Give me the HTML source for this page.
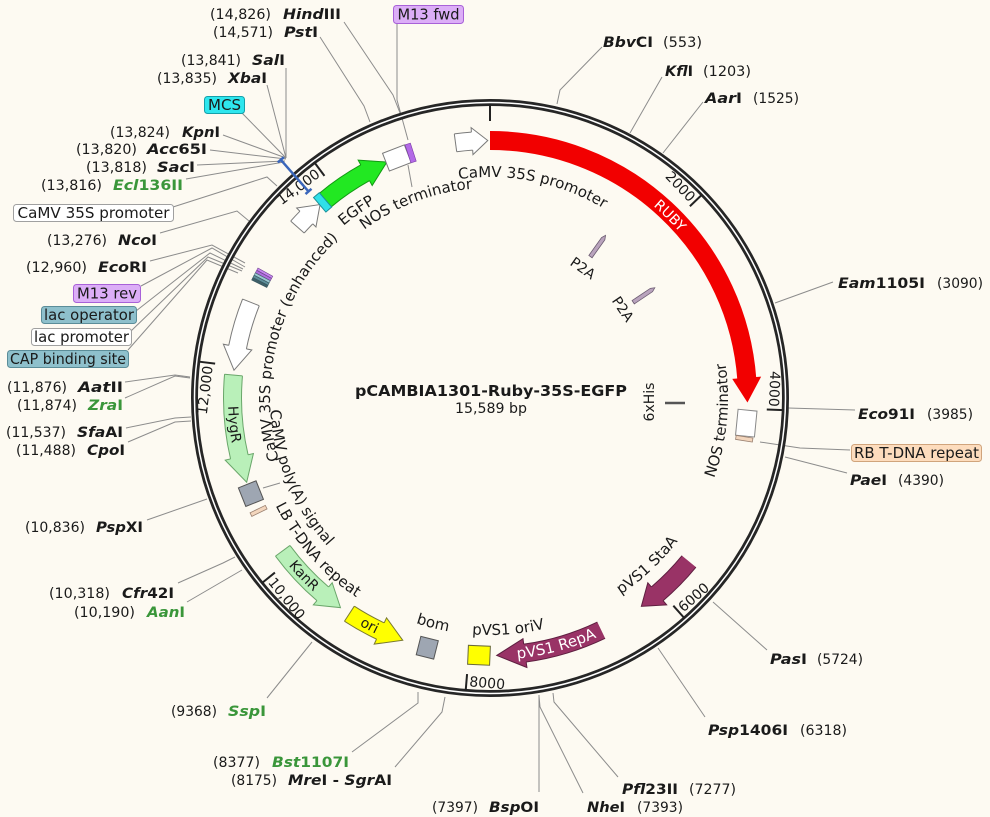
<!DOCTYPE html>
<html><head><meta charset="utf-8"><style>
html,body{margin:0;padding:0;background:#fdfaf2;}
svg{display:block}
text{font-family:"DejaVu Sans","Liberation Sans",sans-serif;fill:#1a1a1a}
.n{font-size:14px}
.e{font-size:14px;font-weight:bold}
.i{font-style:italic}
.g{fill:#3a963a}
.b{font-size:15px}
.c{font-size:15px}
.w{fill:#ffffff}
.ld{fill:none;stroke:#8c8c8c;stroke-width:1}
</style></head><body>
<svg xmlns="http://www.w3.org/2000/svg" width="990" height="817" viewBox="0 0 990 817">
<defs>
<path id="cw221" d="M490,619 A221,221 0 1,1 490,177 A221,221 0 1,1 490,619"/>
<path id="cw210" d="M490,608 A210,210 0 1,1 490,188 A210,210 0 1,1 490,608"/>
<path id="cw226" d="M490,624 A226,226 0 1,1 490,172 A226,226 0 1,1 490,624"/>
<path id="cw220" d="M490,618 A220,220 0 1,1 490,178 A220,220 0 1,1 490,618"/>
<path id="cw252" d="M490,650 A252,252 0 1,1 490,146 A252,252 0 1,1 490,650"/>
<path id="ccw220" d="M490,178 A220,220 0 1,0 490,618 A220,220 0 1,0 490,178"/>
<path id="ccw240" d="M490,158 A240,240 0 1,0 490,638 A240,240 0 1,0 490,158"/>
<path id="ccw237" d="M490,161 A237,237 0 1,0 490,635 A237,237 0 1,0 490,161"/>
<path id="ccw236" d="M490,162 A236,236 0 1,0 490,634 A236,236 0 1,0 490,162"/>
<path id="ccw238" d="M490,160 A238,238 0 1,0 490,636 A238,238 0 1,0 490,160"/>
<path id="ccw262" d="M490,136 A262,262 0 1,0 490,660 A262,262 0 1,0 490,136"/>
</defs>
<rect width="990" height="817" fill="#fdfaf2"/>

<!-- leader lines -->
<g class="ld">
<polyline points="344,22 393,95 400,113"/>
<polyline points="397,23 397,100 408,140"/>
<polyline points="320,37 364,106 370,122"/>
<polyline points="286,68 286,158"/>
<polyline points="267,85 286,158"/>
<polyline points="242,113 286,158"/>
<polyline points="223,135 286,158"/>
<polyline points="210,150 286,159"/>
<polyline points="197,165 285,161"/>
<polyline points="186,179 284,162"/>
<polyline points="173,207 267,177 277,186"/>
<polyline points="160,233 237,211 249,221"/>
<polyline points="150,261 212,245 245,263"/>
<polyline points="141,286 212,248 245,267"/>
<polyline points="136,311 210,253 243,269"/>
<polyline points="131,331 208,257 242,271"/>
<polyline points="128,350 207,260 238,273"/>
<polyline points="125,382 175,375 190,377"/>
<polyline points="125,398 175,376 190,378"/>
<polyline points="126,428 175,418 191,417"/>
<polyline points="128,442 175,422 191,421"/>
<polyline points="147,520 207,499"/>
<polyline points="178,583 223,563 235,557"/>
<polyline points="187,602 242,570"/>
<polyline points="267,698 312,642"/>
<polyline points="352,752 418,703 418,692"/>
<polyline points="395,767 442,712 445,697"/>
<polyline points="539,792 539,695"/>
<polyline points="583,793 540,707 539,696"/>
<polyline points="618,777 554,702 553,693"/>
<polyline points="705,717 658,648"/>
<polyline points="767,650 713,602"/>
<polyline points="847,473 785,457"/>
<polyline points="850,450 800,448 760,442"/>
<polyline points="855,410 788,408"/>
<polyline points="833,282 775,303"/>
<polyline points="703,102 663,153"/>
<polyline points="662,77 630,133"/>
<polyline points="602,47 560,90 557,104"/>
<polyline points="408,165 412,187"/>
<polyline points="263,488 280,483"/>
</g>

<!-- ring -->
<circle cx="490" cy="398" r="295.5" fill="none" stroke="#262626" stroke-width="7"/>
<circle cx="490" cy="398" r="295.5" fill="none" stroke="#ffffff" stroke-width="1.5"/>
<g stroke="#222" stroke-width="2">
<line x1="490" y1="104" x2="490" y2="121"/>
<line x1="490" y1="104" x2="490" y2="121" transform="rotate(46.19 490 398)"/>
<line x1="490" y1="104" x2="490" y2="121" transform="rotate(92.37 490 398)"/>
<line x1="490" y1="104" x2="490" y2="121" transform="rotate(138.56 490 398)"/>
<line x1="490" y1="104" x2="490" y2="121" transform="rotate(184.75 490 398)"/>
<line x1="490" y1="104" x2="490" y2="121" transform="rotate(230.94 490 398)"/>
<line x1="490" y1="104" x2="490" y2="121" transform="rotate(277.12 490 398)"/>
<line x1="490" y1="104" x2="490" y2="121" transform="rotate(323.3 490 398)"/>
</g>
<text class="n" x="487" y="119" text-anchor="end" transform="rotate(46.19 490 398)">2000</text>
<text class="n" x="487" y="119" text-anchor="end" transform="rotate(92.37 490 398)">4000</text>
<text class="n" x="493" y="687" transform="rotate(-41.44 490 398)">6000</text>
<text class="n" x="493" y="687" transform="rotate(4.75 490 398)">8000</text>
<text class="n" x="493" y="687" transform="rotate(50.94 490 398)">10,000</text>
<text class="n" x="487" y="119" text-anchor="end" transform="rotate(277.12 490 398)">12,000</text>
<text class="n" x="487" y="119" text-anchor="end" transform="rotate(323.3 490 398)">14,000</text>

<!-- blue MCS bar -->
<g transform="rotate(318.7 490 398)" stroke="#3a66bb" stroke-width="2.5">
<line x1="490" y1="81" x2="490" y2="123"/>
<line x1="486" y1="81" x2="494" y2="81"/>
<line x1="486" y1="123" x2="494" y2="123"/>
</g>

<!-- Arrow 1: top CaMV 35S promoter (white) -->
<polygon points="490,127 505.72,140.98 490,154" fill="#fff" stroke="#7a7a7a" stroke-width="1" transform="rotate(356 490 398)"/>
<circle cx="490" cy="398" r="257.5" fill="none" stroke="#fff" stroke-width="18" stroke-dasharray="17.98 2000" transform="rotate(262.3 490 398)"/>
<circle cx="490" cy="398" r="248.5" fill="none" stroke="#7a7a7a" stroke-width="1" stroke-dasharray="16.02 2000" transform="rotate(262.3 490 398)"/>
<circle cx="490" cy="398" r="266.5" fill="none" stroke="#7a7a7a" stroke-width="1" stroke-dasharray="17.24 2000" transform="rotate(262.3 490 398)"/>
<line x1="490" y1="131.5" x2="490" y2="149.5" stroke="#7a7a7a" transform="rotate(352.3 490 398)"/>

<!-- RUBY -->
<circle cx="490" cy="398" r="257.5" fill="none" stroke="#f20000" stroke-width="19" stroke-dasharray="385.6 2000" transform="rotate(-90 490 398)"/>
<polygon points="490,126 514.68,141.69 490,155" fill="#f20000" transform="rotate(85.5 490 398)"/>

<!-- NOS terminator right -->
<rect x="477" y="131" width="26" height="19" fill="#fff" stroke="#888" stroke-width="1" transform="rotate(95.6 490 398)"/>
<rect x="488" y="132" width="4" height="17" fill="#f3d6bd" stroke="#9a8070" stroke-width="0.8" transform="rotate(99.1 490 398)"/>

<!-- pVS1 StaA -->
<polygon points="490,126 510.2,141.29 490,155" fill="#993366" stroke="#5e1f40" stroke-width="1" transform="rotate(139.5 490 398)"/>
<circle cx="490" cy="398" r="257.5" fill="none" stroke="#993366" stroke-width="18" stroke-dasharray="46.74 2000" transform="rotate(39.4 490 398)"/>
<circle cx="490" cy="398" r="248.5" fill="none" stroke="#5e1f40" stroke-width="1" stroke-dasharray="43.72 2000" transform="rotate(39.4 490 398)"/>
<circle cx="490" cy="398" r="266.5" fill="none" stroke="#5e1f40" stroke-width="1" stroke-dasharray="47.07 2000" transform="rotate(39.4 490 398)"/>

<!-- pVS1 RepA -->
<polygon points="490,126 518.26,142.06 490,155" fill="#993366" stroke="#5e1f40" stroke-width="1" transform="rotate(172.2 490 398)"/>
<circle cx="490" cy="398" r="257.5" fill="none" stroke="#993366" stroke-width="18" stroke-dasharray="81.35 2000" transform="rotate(64.4 490 398)"/>
<circle cx="490" cy="398" r="248.5" fill="none" stroke="#5e1f40" stroke-width="1" stroke-dasharray="77.05 2000" transform="rotate(64.4 490 398)"/>
<circle cx="490" cy="398" r="266.5" fill="none" stroke="#5e1f40" stroke-width="1" stroke-dasharray="82.95 2000" transform="rotate(64.4 490 398)"/>

<!-- oriV, bom -->
<rect x="479" y="131" width="22" height="19" fill="#ffff00" stroke="#6a6a3a" stroke-width="1" transform="rotate(182.45 490 398)"/>
<rect x="481" y="131" width="18" height="19" fill="#9ea6b2" stroke="#555" stroke-width="1" transform="rotate(194.1 490 398)"/>

<!-- ori -->
<polygon points="490,126 465.77,141.64 490,155" fill="#ffff00" stroke="#7a7a30" stroke-width="1" transform="rotate(205.2 490 398)"/>
<circle cx="490" cy="398" r="257.5" fill="none" stroke="#ffff00" stroke-width="18" stroke-dasharray="36.85 2000" transform="rotate(114.9 490 398)"/>
<circle cx="490" cy="398" r="248.5" fill="none" stroke="#7a7a30" stroke-width="1" stroke-dasharray="34.19 2000" transform="rotate(115.2 490 398)"/>
<circle cx="490" cy="398" r="266.5" fill="none" stroke="#7a7a30" stroke-width="1" stroke-dasharray="36.81 2000" transform="rotate(115.2 490 398)"/>
<line x1="490" y1="131.5" x2="490" y2="149.5" stroke="#7a7a30" transform="rotate(213.1 490 398)"/>

<!-- KanR -->
<polygon points="490,126 467.56,141.48 490,155" fill="#b9f0b9" stroke="#6aa66a" stroke-width="1" transform="rotate(220.5 490 398)"/>
<circle cx="490" cy="398" r="257.5" fill="none" stroke="#b9f0b9" stroke-width="18" stroke-dasharray="60.22 2000" transform="rotate(130.2 490 398)"/>
<circle cx="490" cy="398" r="248.5" fill="none" stroke="#6aa66a" stroke-width="1" stroke-dasharray="56.70 2000" transform="rotate(130.5 490 398)"/>
<circle cx="490" cy="398" r="266.5" fill="none" stroke="#6aa66a" stroke-width="1" stroke-dasharray="61.05 2000" transform="rotate(130.5 490 398)"/>
<line x1="490" y1="131.5" x2="490" y2="149.5" stroke="#6aa66a" transform="rotate(233.6 490 398)"/>

<!-- LB T-DNA, polyA -->
<rect x="488" y="132" width="4" height="17" fill="#f3d6bd" stroke="#9a8070" stroke-width="0.8" transform="rotate(244 490 398)"/>
<rect x="480" y="131" width="20" height="19" fill="#9ea6b2" stroke="#555" stroke-width="1" transform="rotate(248.2 490 398)"/>

<!-- HygR -->
<polygon points="490,126 463.53,141.86 490,155" fill="#b9f0b9" stroke="#6aa66a" stroke-width="1" transform="rotate(256.8 490 398)"/>
<circle cx="490" cy="398" r="257.5" fill="none" stroke="#b9f0b9" stroke-width="18" stroke-dasharray="83.59 2000" transform="rotate(166.5 490 398)"/>
<circle cx="490" cy="398" r="248.5" fill="none" stroke="#6aa66a" stroke-width="1" stroke-dasharray="79.21 2000" transform="rotate(166.8 490 398)"/>
<circle cx="490" cy="398" r="266.5" fill="none" stroke="#6aa66a" stroke-width="1" stroke-dasharray="85.28 2000" transform="rotate(166.8 490 398)"/>
<line x1="490" y1="131.5" x2="490" y2="149.5" stroke="#6aa66a" transform="rotate(275.1 490 398)"/>

<!-- CaMV 35S enhanced (white) -->
<polygon points="490,126 466.66,141.56 490,155" fill="#fff" stroke="#7a7a7a" stroke-width="1" transform="rotate(281.4 490 398)"/>
<circle cx="490" cy="398" r="257.5" fill="none" stroke="#fff" stroke-width="18" stroke-dasharray="48.09 2000" transform="rotate(191.1 490 398)"/>
<circle cx="490" cy="398" r="248.5" fill="none" stroke="#7a7a7a" stroke-width="1" stroke-dasharray="45.02 2000" transform="rotate(191.4 490 398)"/>
<circle cx="490" cy="398" r="266.5" fill="none" stroke="#7a7a7a" stroke-width="1" stroke-dasharray="48.46 2000" transform="rotate(191.4 490 398)"/>
<line x1="490" y1="131.5" x2="490" y2="149.5" stroke="#7a7a7a" transform="rotate(291.8 490 398)"/>

<!-- lac cluster stripes -->
<rect x="488.8" y="132" width="2.4" height="17" fill="#c586ee" stroke="#6a3a88" stroke-width="0.5" transform="rotate(299.0 490 398)"/>
<rect x="488.8" y="132" width="2.4" height="17" fill="#b070e0" stroke="#6a3a88" stroke-width="0.5" transform="rotate(298.4 490 398)"/>
<rect x="488.8" y="132" width="2.4" height="17" fill="#9cc8d2" stroke="#3e5f68" stroke-width="0.5" transform="rotate(297.8 490 398)"/>
<rect x="488.8" y="132" width="2.4" height="17" fill="#5e8f9a" stroke="#2e4f58" stroke-width="0.5" transform="rotate(297.2 490 398)"/>
<rect x="488.8" y="132" width="2.4" height="17" fill="#3e5f68" stroke="#2e4f58" stroke-width="0.5" transform="rotate(296.6 490 398)"/>

<!-- small white arrow -->
<polygon points="490,127 508.86,141.19 490,154" fill="#fff" stroke="#7a7a7a" stroke-width="1" transform="rotate(314.5 490 398)"/>
<circle cx="490" cy="398" r="257.5" fill="none" stroke="#fff" stroke-width="18" stroke-dasharray="14.38 2000" transform="rotate(221.6 490 398)"/>
<circle cx="490" cy="398" r="248.5" fill="none" stroke="#7a7a7a" stroke-width="1" stroke-dasharray="12.55 2000" transform="rotate(221.6 490 398)"/>
<circle cx="490" cy="398" r="266.5" fill="none" stroke="#7a7a7a" stroke-width="1" stroke-dasharray="13.51 2000" transform="rotate(221.6 490 398)"/>
<line x1="490" y1="131.5" x2="490" y2="149.5" stroke="#7a7a7a" transform="rotate(311.6 490 398)"/>

<!-- EGFP -->
<polygon points="490,126 514.23,141.64 490,155" fill="#22e822" stroke="#129912" stroke-width="1" transform="rotate(331 490 398)"/>
<circle cx="490" cy="398" r="257.5" fill="none" stroke="#22e822" stroke-width="18" stroke-dasharray="49.44 2000" transform="rotate(230.3 490 398)"/>
<circle cx="490" cy="398" r="248.5" fill="none" stroke="#129912" stroke-width="1" stroke-dasharray="46.31 2000" transform="rotate(230.3 490 398)"/>
<circle cx="490" cy="398" r="266.5" fill="none" stroke="#129912" stroke-width="1" stroke-dasharray="49.86 2000" transform="rotate(230.3 490 398)"/>
<rect x="486.2" y="131" width="7.6" height="19" fill="#30e0e8" stroke="#1a8f99" stroke-width="1" transform="rotate(319.45 490 398)"/>

<!-- NOS top-left + M13 fwd stripe -->
<rect x="478.3" y="131" width="23.4" height="19" fill="#fff" stroke="#7a7a7a" stroke-width="1" transform="rotate(338.8 490 398)"/>
<rect x="487.2" y="131" width="5.6" height="19" fill="#b36ae6" stroke="#7a3aa8" stroke-width="0.6" transform="rotate(342.05 490 398)"/>

<!-- P2A + 6xHis -->
<polygon points="-13,-2 9,-2 13,0 9,2 -13,2" fill="#b9a3bd" stroke="#6a5a70" stroke-width="0.8" transform="translate(598 246) rotate(-54.6)"/>
<polygon points="-13,-2 9,-2 13,0 9,2 -13,2" fill="#b9a3bd" stroke="#6a5a70" stroke-width="0.8" transform="translate(644 295) rotate(-33.8)"/>
<line x1="665" y1="403" x2="685" y2="403" stroke="#555" stroke-width="2.5"/>
<text class="n" x="583" y="273" text-anchor="middle" transform="rotate(35 583 268)">P2A</text>
<text class="n" x="623" y="314" text-anchor="middle" transform="rotate(56 623 309)">P2A</text>
<text class="n" x="654" y="402" text-anchor="middle" transform="rotate(-90 654 402)">6xHis</text>

<!-- curved labels -->
<text class="c"><textPath href="#cw221" startOffset="53.17%" text-anchor="middle">CaMV 35S promoter</textPath></text>
<text class="c"><textPath href="#cw210" startOffset="44.22%" text-anchor="middle">NOS terminator</textPath></text>
<text class="c"><textPath href="#cw226" startOffset="40.14%" text-anchor="middle">EGFP</textPath></text>
<text class="c"><textPath href="#cw220" startOffset="29.17%" text-anchor="middle">CaMV 35S promoter (enhanced)</textPath></text>
<text class="n w"><textPath href="#cw252" startOffset="62.39%" text-anchor="middle">RUBY</textPath></text>
<text class="c"><textPath href="#ccw220" startOffset="31.31%" text-anchor="middle">CaMV poly(A) signal</textPath></text>
<text class="c"><textPath href="#ccw240" startOffset="36.5%" text-anchor="middle">LB T-DNA repeat</textPath></text>
<text class="c"><textPath href="#ccw237" startOffset="46.06%" text-anchor="middle">bom</textPath></text>
<text class="c"><textPath href="#ccw237" startOffset="51.25%" text-anchor="middle">pVS1 oriV</textPath></text>
<text class="c"><textPath href="#ccw236" startOffset="62%" text-anchor="middle">pVS1 StaA</textPath></text>
<text class="c"><textPath href="#ccw238" startOffset="73.44%" text-anchor="middle">NOS terminator</textPath></text>
<text class="n"><textPath href="#ccw262" startOffset="26.64%" text-anchor="middle">HygR</textPath></text>
<text class="n"><textPath href="#ccw262" startOffset="37.14%" text-anchor="middle">KanR</textPath></text>
<text class="n"><textPath href="#ccw262" startOffset="42.25%" text-anchor="middle">ori</textPath></text>
<text class="c w"><textPath href="#ccw262" startOffset="54.17%" text-anchor="middle">pVS1 RepA</textPath></text>

<!-- center title -->
<text x="491" y="396" text-anchor="middle" font-size="15" font-weight="bold" textLength="272" lengthAdjust="spacingAndGlyphs">pCAMBIA1301-Ruby-35S-EGFP</text>
<text class="n" x="491" y="413" text-anchor="middle" textLength="72" lengthAdjust="spacingAndGlyphs">15,589 bp</text>

<!-- label boxes -->
<rect x="393.5" y="5.5" width="70" height="18" rx="3" fill="#dcaef7" stroke="#a861d8"/>
<text class="b" x="428.5" y="19.5" text-anchor="middle" textLength="62" lengthAdjust="spacingAndGlyphs">M13 fwd</text>
<rect x="204.5" y="96.5" width="40" height="17" rx="3" fill="#2ee6ee" stroke="#14a0aa"/>
<text class="b" x="224.5" y="110" text-anchor="middle">MCS</text>
<rect x="13.5" y="204.5" width="160" height="17" rx="3" fill="#fff" stroke="#a0a0a0"/>
<text class="b" x="93.5" y="218" text-anchor="middle" textLength="152" lengthAdjust="spacingAndGlyphs">CaMV 35S promoter</text>
<rect x="73.5" y="284.5" width="67" height="18" rx="3" fill="#dcaef7" stroke="#a861d8"/>
<text class="b" x="107" y="298.5" text-anchor="middle" textLength="60" lengthAdjust="spacingAndGlyphs">M13 rev</text>
<rect x="41.5" y="306.5" width="95" height="17" rx="3" fill="#8ec0cc" stroke="#5b8d99"/>
<text class="b" x="89" y="320" text-anchor="middle" textLength="90" lengthAdjust="spacingAndGlyphs">lac operator</text>
<rect x="31.5" y="328.5" width="100" height="17" rx="3" fill="#fff" stroke="#a0a0a0"/>
<text class="b" x="81.5" y="342" text-anchor="middle" textLength="95" lengthAdjust="spacingAndGlyphs">lac promoter</text>
<rect x="7.5" y="350.5" width="121" height="17" rx="3" fill="#8ec0cc" stroke="#5b8d99"/>
<text class="b" x="68" y="364" text-anchor="middle" textLength="116" lengthAdjust="spacingAndGlyphs">CAP binding site</text>
<rect x="851.5" y="444.5" width="130" height="17" rx="3" fill="#fddcbd" stroke="#d0a47c"/>
<text class="b" x="916.5" y="458" text-anchor="middle" textLength="125" lengthAdjust="spacingAndGlyphs">RB T-DNA repeat</text>

<!-- enzyme labels left -->
<text class="n" x="210" y="19" textLength="61" lengthAdjust="spacingAndGlyphs">(14,826)</text>
<text class="e" x="283" y="19" textLength="58" lengthAdjust="spacingAndGlyphs"><tspan class="i">Hind</tspan>III</text>
<text class="n" x="213" y="37" textLength="60" lengthAdjust="spacingAndGlyphs">(14,571)</text>
<text class="e" x="284" y="37" textLength="34" lengthAdjust="spacingAndGlyphs"><tspan class="i">Pst</tspan>I</text>
<text class="n" x="181" y="65" textLength="60" lengthAdjust="spacingAndGlyphs">(13,841)</text>
<text class="e" x="252" y="65" textLength="33" lengthAdjust="spacingAndGlyphs"><tspan class="i">Sal</tspan>I</text>
<text class="n" x="157" y="83" textLength="60" lengthAdjust="spacingAndGlyphs">(13,835)</text>
<text class="e" x="228" y="83" textLength="39" lengthAdjust="spacingAndGlyphs"><tspan class="i">Xba</tspan>I</text>
<text class="n" x="110" y="137" textLength="60" lengthAdjust="spacingAndGlyphs">(13,824)</text>
<text class="e" x="182" y="137" textLength="38" lengthAdjust="spacingAndGlyphs"><tspan class="i">Kpn</tspan>I</text>
<text class="n" x="76" y="154" textLength="61" lengthAdjust="spacingAndGlyphs">(13,820)</text>
<text class="e" x="147" y="154" textLength="60" lengthAdjust="spacingAndGlyphs"><tspan class="i">Acc</tspan>65I</text>
<text class="n" x="86" y="172" textLength="61" lengthAdjust="spacingAndGlyphs">(13,818)</text>
<text class="e" x="157" y="172" textLength="38" lengthAdjust="spacingAndGlyphs"><tspan class="i">Sac</tspan>I</text>
<text class="n" x="41" y="190" textLength="61" lengthAdjust="spacingAndGlyphs">(13,816)</text>
<text class="e g" x="113" y="190" textLength="70" lengthAdjust="spacingAndGlyphs"><tspan class="i">Ecl</tspan>136II</text>
<text class="n" x="47" y="245" textLength="60" lengthAdjust="spacingAndGlyphs">(13,276)</text>
<text class="e" x="118" y="245" textLength="39" lengthAdjust="spacingAndGlyphs"><tspan class="i">Nco</tspan>I</text>
<text class="n" x="26" y="272" textLength="61" lengthAdjust="spacingAndGlyphs">(12,960)</text>
<text class="e" x="98" y="272" textLength="49" lengthAdjust="spacingAndGlyphs"><tspan class="i">Eco</tspan>RI</text>
<text class="n" x="7" y="392" textLength="60" lengthAdjust="spacingAndGlyphs">(11,876)</text>
<text class="e" x="78" y="392" textLength="45" lengthAdjust="spacingAndGlyphs"><tspan class="i">Aat</tspan>II</text>
<text class="n" x="17" y="410" textLength="60" lengthAdjust="spacingAndGlyphs">(11,874)</text>
<text class="e g" x="88" y="410" textLength="35" lengthAdjust="spacingAndGlyphs"><tspan class="i">Zra</tspan>I</text>
<text class="n" x="6" y="437" textLength="60" lengthAdjust="spacingAndGlyphs">(11,537)</text>
<text class="e" x="77" y="437" textLength="46" lengthAdjust="spacingAndGlyphs"><tspan class="i">Sfa</tspan>AI</text>
<text class="n" x="16" y="455" textLength="60" lengthAdjust="spacingAndGlyphs">(11,488)</text>
<text class="e" x="87" y="455" textLength="38" lengthAdjust="spacingAndGlyphs"><tspan class="i">Cpo</tspan>I</text>
<text class="n" x="25" y="532" textLength="60" lengthAdjust="spacingAndGlyphs">(10,836)</text>
<text class="e" x="96" y="532" textLength="47" lengthAdjust="spacingAndGlyphs"><tspan class="i">Psp</tspan>XI</text>
<text class="n" x="49" y="598" textLength="61" lengthAdjust="spacingAndGlyphs">(10,318)</text>
<text class="e" x="122" y="598" textLength="52" lengthAdjust="spacingAndGlyphs"><tspan class="i">Cfr</tspan>42I</text>
<text class="n" x="74" y="617" textLength="61" lengthAdjust="spacingAndGlyphs">(10,190)</text>
<text class="e g" x="147" y="617" textLength="38" lengthAdjust="spacingAndGlyphs"><tspan class="i">Aan</tspan>I</text>
<text class="n" x="171" y="716" textLength="46" lengthAdjust="spacingAndGlyphs">(9368)</text>
<text class="e g" x="228" y="716" textLength="38" lengthAdjust="spacingAndGlyphs"><tspan class="i">Ssp</tspan>I</text>
<text class="n" x="213" y="767" textLength="47" lengthAdjust="spacingAndGlyphs">(8377)</text>
<text class="e g" x="272" y="767" textLength="77" lengthAdjust="spacingAndGlyphs"><tspan class="i">Bst</tspan>1107I</text>
<text class="n" x="231" y="785" textLength="46" lengthAdjust="spacingAndGlyphs">(8175)</text>
<text class="e" x="288" y="785" textLength="104" lengthAdjust="spacingAndGlyphs"><tspan class="i">Mre</tspan>I - <tspan class="i">Sgr</tspan>AI</text>
<text class="n" x="432" y="812" textLength="46" lengthAdjust="spacingAndGlyphs">(7397)</text>
<text class="e" x="489" y="812" textLength="50" lengthAdjust="spacingAndGlyphs"><tspan class="i">Bsp</tspan>OI</text>

<!-- enzyme labels right -->
<text class="e" x="587" y="812" textLength="38" lengthAdjust="spacingAndGlyphs"><tspan class="i">Nhe</tspan>I</text>
<text class="n" x="637" y="812" textLength="46" lengthAdjust="spacingAndGlyphs">(7393)</text>
<text class="e" x="622" y="794" textLength="56" lengthAdjust="spacingAndGlyphs"><tspan class="i">Pfl</tspan>23II</text>
<text class="n" x="689" y="794" textLength="47" lengthAdjust="spacingAndGlyphs">(7277)</text>
<text class="e" x="708" y="735" textLength="80" lengthAdjust="spacingAndGlyphs"><tspan class="i">Psp</tspan>1406I</text>
<text class="n" x="800" y="735" textLength="47" lengthAdjust="spacingAndGlyphs">(6318)</text>
<text class="e" x="770" y="664" textLength="37" lengthAdjust="spacingAndGlyphs"><tspan class="i">Pas</tspan>I</text>
<text class="n" x="817" y="664" textLength="46" lengthAdjust="spacingAndGlyphs">(5724)</text>
<text class="e" x="850" y="485" textLength="37" lengthAdjust="spacingAndGlyphs"><tspan class="i">Pae</tspan>I</text>
<text class="n" x="898" y="485" textLength="46" lengthAdjust="spacingAndGlyphs">(4390)</text>
<text class="e" x="858" y="419" textLength="57" lengthAdjust="spacingAndGlyphs"><tspan class="i">Eco</tspan>91I</text>
<text class="n" x="927" y="419" textLength="46" lengthAdjust="spacingAndGlyphs">(3985)</text>
<text class="e" x="838" y="288" textLength="87" lengthAdjust="spacingAndGlyphs"><tspan class="i">Eam</tspan>1105I</text>
<text class="n" x="937" y="288" textLength="46" lengthAdjust="spacingAndGlyphs">(3090)</text>
<text class="e" x="705" y="103" textLength="37" lengthAdjust="spacingAndGlyphs"><tspan class="i">Aar</tspan>I</text>
<text class="n" x="753" y="103" textLength="46" lengthAdjust="spacingAndGlyphs">(1525)</text>
<text class="e" x="665" y="76" textLength="28" lengthAdjust="spacingAndGlyphs"><tspan class="i">Kfl</tspan>I</text>
<text class="n" x="703" y="76" textLength="48" lengthAdjust="spacingAndGlyphs">(1203)</text>
<text class="e" x="603" y="47" textLength="50" lengthAdjust="spacingAndGlyphs"><tspan class="i">Bbv</tspan>CI</text>
<text class="n" x="663" y="47" textLength="39" lengthAdjust="spacingAndGlyphs">(553)</text>
</svg>
</body></html>
